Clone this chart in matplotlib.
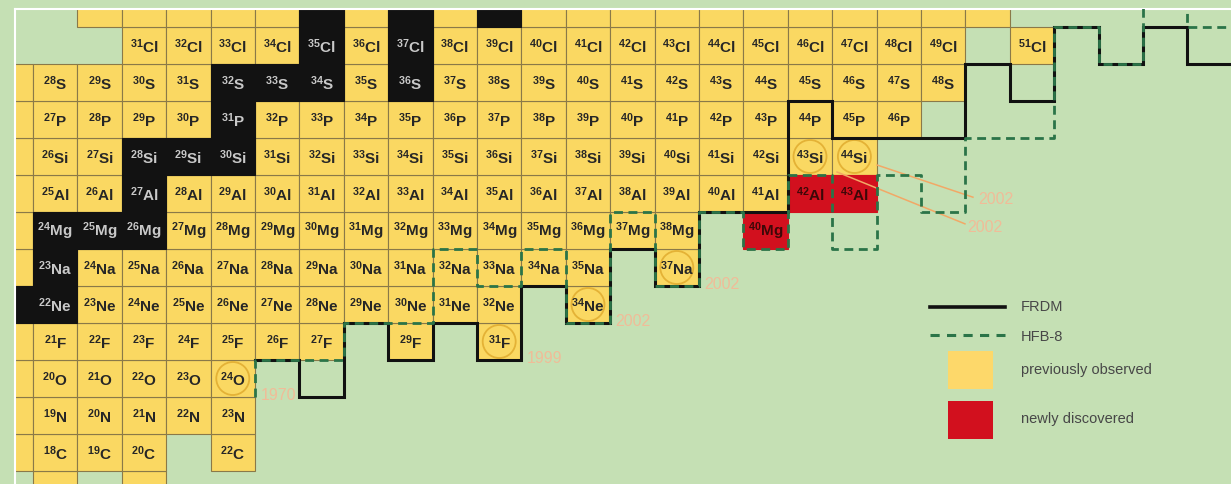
import matplotlib
matplotlib.use('Agg')
import matplotlib.pyplot as plt
from matplotlib.patches import Rectangle, Ellipse
from matplotlib.lines import Line2D

plt.rcParams['font.family'] = ['Liberation Sans', 'DejaVu Sans']
plt.rcParams['mathtext.fontset'] = 'custom'
plt.rcParams['mathtext.rm'] = 'Liberation Sans:bold'
plt.rcParams['mathtext.it'] = 'Liberation Sans:bold'
plt.rcParams['mathtext.bf'] = 'Liberation Sans:bold'

# elements shown on the chart and their proton numbers
symbols = ['B', 'C', 'N', 'O', 'F', 'Ne', 'Na', 'Mg', 'Al', 'Si', 'P', 'S', 'Cl', 'Ar']
protons = [5, 6, 7, 8, 9, 10, 11, 12, 13, 14, 15, 16, 17, 18]

# mass numbers of the known isotopes of each element
mass_B = [17, 19]
mass_C = [17, 18, 19, 20, 22]
mass_N = [18, 19, 20, 21, 22, 23]
mass_O = [19, 20, 21, 22, 23, 24]
mass_F = [20, 21, 22, 23, 24, 25, 26, 27, 29, 31]
mass_Ne = [21, 22, 23, 24, 25, 26, 27, 28, 29, 30, 31, 32, 34]
mass_Na = [22, 23, 24, 25, 26, 27, 28, 29, 30, 31, 32, 33, 34, 35, 37]
mass_Mg = [23, 24, 25, 26, 27, 28, 29, 30, 31, 32, 33, 34, 35, 36, 37, 38, 40]
mass_Al = [24, 25, 26, 27, 28, 29, 30, 31, 32, 33, 34, 35, 36, 37, 38, 39, 40,
           41, 42, 43]
mass_Si = [25, 26, 27, 28, 29, 30, 31, 32, 33, 34, 35, 36, 37, 38, 39, 40, 41,
           42, 43, 44]
mass_P = [26, 27, 28, 29, 30, 31, 32, 33, 34, 35, 36, 37, 38, 39, 40, 41, 42,
          43, 44, 45, 46]
mass_S = [27, 28, 29, 30, 31, 32, 33, 34, 35, 36, 37, 38, 39, 40, 41, 42, 43,
          44, 45, 46, 47, 48]
mass_Cl = [31, 32, 33, 34, 35, 36, 37, 38, 39, 40, 41, 42, 43, 44, 45, 46, 47,
           48, 49, 51]
mass_Ar = [31, 32, 33, 34, 35, 36, 37, 38, 39, 40, 41, 42, 43, 44, 45, 46, 47,
           48, 49, 50, 51]
masses = [mass_B, mass_C, mass_N, mass_O, mass_F, mass_Ne, mass_Na, mass_Mg,
          mass_Al, mass_Si, mass_P, mass_S, mass_Cl, mass_Ar]

stable = [('Ne', 21), ('Ne', 22), ('Na', 23), ('Mg', 24), ('Mg', 25), ('Mg', 26),
          ('Al', 27), ('Si', 28), ('Si', 29), ('Si', 30), ('P', 31), ('S', 32),
          ('S', 33), ('S', 34), ('S', 36), ('Cl', 35), ('Cl', 37), ('Ar', 36),
          ('Ar', 38), ('Ar', 40)]
new_found = [('Mg', 40), ('Al', 42), ('Al', 43)]

# heaviest isotope seen for each element, with the year it was seen
heaviest = [('O', 24), ('F', 31), ('Ne', 34), ('Na', 37), ('Si', 43), ('Si', 44)]
years = ['1970', '1999', '2002', '2002', '2002', '2002']

# predicted drip lines, traced along the cell edges (N, Z)
frdm_n = [16.5, 17.5, 17.5, 18.5, 18.5, 19.5, 19.5, 20.5, 20.5, 21.5, 21.5, 22.5,
          22.5, 23.5, 23.5, 24.5, 24.5, 25.5, 25.5, 26.5, 26.5, 28.5, 28.5, 29.5,
          29.5, 32.5, 32.5, 33.5, 33.5, 34.5, 34.5, 35.5, 35.5, 36.5, 36.5, 37.5,
          37.5, 39.0]
frdm_z = [8.5, 8.5, 7.5, 7.5, 9.5, 9.5, 8.5, 8.5, 9.5, 9.5, 8.5, 8.5,
          10.5, 10.5, 9.5, 9.5, 11.5, 11.5, 10.5, 10.5, 12.5, 12.5, 15.5, 15.5,
          14.5, 14.5, 16.5, 16.5, 15.5, 15.5, 17.5, 17.5, 16.5, 16.5, 17.5, 17.5,
          16.5, 16.5]
hfb_n = [16.5, 16.5, 18.5, 18.5, 20.5, 20.5, 21.5, 21.5, 22.5, 22.5, 23.5, 23.5,
         24.5, 24.5, 25.5, 25.5, 26.5, 26.5, 27.5, 27.5, 28.5, 28.5, 29.5, 29.5,
         30.5, 30.5, 31.5, 31.5, 32.5, 32.5, 34.5, 34.5, 35.5, 35.5, 36.5, 36.5,
         37.5, 37.5, 39.0]
hfb_z = [7.5, 8.5, 8.5, 9.5, 9.5, 11.5, 11.5, 10.5, 10.5, 11.5, 11.5, 9.5,
         9.5, 12.5, 12.5, 10.5, 10.5, 12.5, 12.5, 11.5, 11.5, 13.5, 13.5, 11.5,
         11.5, 13.5, 13.5, 12.5, 12.5, 14.5, 14.5, 17.5, 17.5, 16.5, 16.5, 18.5,
         18.5, 17.5, 17.5]

BG = '#c5e0b4'
YELLOW = '#fad862'
BLACK = '#121212'
RED = '#d2101e'
DASH_GREEN = '#2b7448'
YEAR_COLOR = '#f0bc98'

z_of = dict(zip(symbols, protons))

fig = plt.figure(figsize=(12.31, 4.85), dpi=100)
fig.patch.set_facecolor(BG)
ax = fig.add_axes([15 / 1231, 0, 1216 / 1231, 475 / 485])
ax.set_facecolor(BG)
ax.set_xlim(11.095, 38.482)
ax.set_ylim(5.149, 17.986)
ax.set_xticks([])
ax.set_yticks([])
for side in ['bottom', 'right']:
    ax.spines[side].set_visible(False)
for side in ['top', 'left']:
    ax.spines[side].set_color('white')
    ax.spines[side].set_linewidth(1.5)

x0, x1 = ax.get_xlim()
y0, y1 = ax.get_ylim()

for sym, z, alist in zip(symbols, protons, masses):
    for a in alist:
        n = a - z
        if (sym, a) in stable:
            face, edge, tc = BLACK, BLACK, '#c9c9c9'
        elif (sym, a) in new_found:
            face, edge, tc = RED, RED, '#3c0808'
        else:
            face, edge, tc = YELLOW, '#8a7948', '#262626'
        ax.add_patch(Rectangle((n - 0.5, z - 0.5), 1, 1, facecolor=face,
                               edgecolor=edge, linewidth=0.8,
                               zorder=1 if face == YELLOW else 2))
        # cells cut by the frame carry no label
        if n - 0.5 < x0 or z + 0.5 > y1 or z - 0.5 < y0:
            continue
        ax.text(n, z, r'$^{%d}$%s' % (a, sym), ha='center', va='center',
                fontsize=11, fontweight='bold', color=tc, zorder=5)

# rings around the heaviest isotopes and the years they were reached
for (sym, a), yr in zip(heaviest, years):
    z = z_of[sym]
    n = a - z
    ax.add_patch(Ellipse((n, z), 33 / 44.4, 33 / 37, fill=False,
                         edgecolor='#e4b236', linewidth=1.3, zorder=4))
    if sym == 'Si':
        if a == 43:
            start, end, txt = (0.61, -0.42), (3.49, -1.82), (3.55, -1.88)
        else:
            start, end, txt = (0.51, -0.23), (2.67, -1.10), (2.78, -1.13)
        ax.plot([n + start[0], n + end[0]], [z + start[1], z + end[1]],
                color='#f2a866', linewidth=1.1, zorder=6)
        ax.text(n + txt[0], z + txt[1], yr, ha='left', va='center',
                fontsize=11.5, color=YEAR_COLOR, zorder=6)
    else:
        ax.text(n + 1.02, z - 0.43, yr, ha='center', va='center',
                fontsize=11.5, color=YEAR_COLOR, zorder=6)

ax.plot(frdm_n, frdm_z, color='#111111', linewidth=2.2, zorder=7,
        solid_joinstyle='miter')
ax.plot(hfb_n, hfb_z, color=DASH_GREEN, linewidth=2.0, dashes=(3.2, 2.0),
        zorder=8)

# legend, placed in figure pixels
W, H = 1231, 485


def fx(x):
    return x / W


def fy(y):
    return 1 - y / H


fig.add_artist(Line2D([fx(930), fx(1005)], [fy(308), fy(308)],
                      color='#111111', linewidth=2.6))
fig.add_artist(Line2D([fx(930), fx(1005)], [fy(336), fy(336)],
                      color=DASH_GREEN, linewidth=2.2, dashes=(3, 2.4)))
fig.add_artist(Rectangle((fx(948), fy(390)), 45 / W, 38 / H,
                         facecolor='#fdd86a', edgecolor='none',
                         transform=fig.transFigure))
fig.add_artist(Rectangle((fx(948), fy(440)), 45 / W, 38 / H,
                         facecolor=RED, edgecolor='none',
                         transform=fig.transFigure))
legend_labels = ['FRDM', 'HFB-8', 'previously observed', 'newly discovered']
legend_rows = [307, 337, 370, 419]
for lab, yy in zip(legend_labels, legend_rows):
    fig.text(fx(1021), fy(yy), lab, ha='left', va='center', fontsize=10.5,
             color='#474747')

fig.savefig('out.png', dpi=100, facecolor=BG)
